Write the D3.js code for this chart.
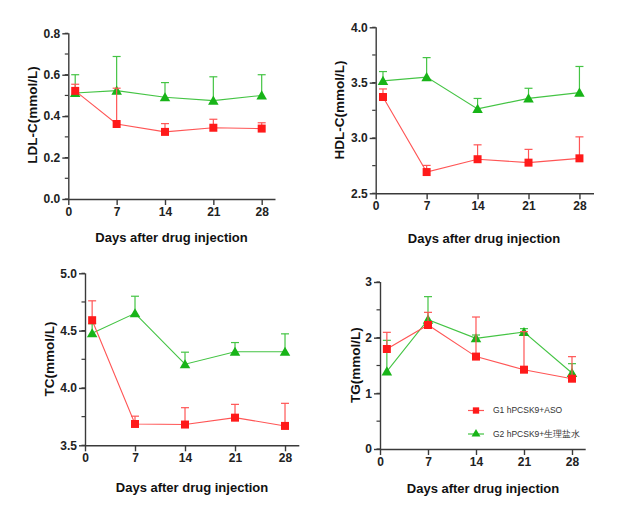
<!DOCTYPE html>
<html>
<head>
<meta charset="utf-8">
<script src="https://cdn.jsdelivr.net/npm/d3@7"></script>
<style>
  body { margin: 0; background: #fff; }
  svg { display: block; font-family: "Liberation Sans", Arial, sans-serif; }
</style>
</head>
<body>
<script>
// days measured
var days = [1, 7, 14, 21, 28];
var xTicks = [0, 7, 14, 21, 28];

// LDL-C
var ldlG1 = [0.522, 0.362, 0.324, 0.344, 0.340];
var ldlG1Err = [0.554, 0.535, 0.364, 0.385, 0.368];
var ldlG2 = [0.512, 0.523, 0.491, 0.475, 0.500];
var ldlG2Err = [0.600, 0.688, 0.562, 0.590, 0.600];

// HDL-C
var hdlG1 = [3.370, 2.692, 2.808, 2.777, 2.816];
var hdlG1Err = [3.443, 2.752, 2.938, 2.897, 3.010];
var hdlG2 = [3.516, 3.550, 3.263, 3.358, 3.410];
var hdlG2Err = [3.600, 3.726, 3.357, 3.449, 3.646];

// TC
var tcG1 = [4.591, 3.686, 3.681, 3.741, 3.669];
var tcG1Err = [4.760, 3.754, 3.828, 3.857, 3.866];
var tcG2 = [4.477, 4.651, 4.207, 4.316, 4.316];
var tcG2Err = [4.560, 4.800, 4.312, 4.396, 4.472];

// TG
var tgG1 = [1.796, 2.228, 1.660, 1.425, 1.263];
var tgG1Err = [2.096, 2.455, 2.371, 2.108, 1.659];
var tgG2 = [1.395, 2.323, 1.988, 2.102, 1.365];
var tgG2Err = [1.952, 2.737, 2.048, 2.162, 1.533];

var legendLabels = ["G1 hPCSK9+ASO", "G2 hPCSK9+生理盐水"];

var red = "#ff1a1a", redLine = "#ff5555";
var green = "#18b418", greenLine = "#44c444";
var axisColor = "#3a3a3a";

var svg = d3.select("body").append("svg").attr("width", 632).attr("height", 511);

var panels = [
  { title: "LDL-C(mmol/L)", g1: ldlG1, e1: ldlG1Err, g2: ldlG2, e2: ldlG2Err,
    yDom: [0, 0.8], yMajor: [0, 0.2, 0.4, 0.6, 0.8], yMinor: 0.1, fmt: d3.format(".1f"),
    x0: 68.3, x1: 275.5, y0: 199, y1: 33.3, ytx: 32, yty: 115, xtx: 171.5, xty: 242 },
  { title: "HDL-C(mmol/L)", g1: hdlG1, e1: hdlG1Err, g2: hdlG2, e2: hdlG2Err,
    yDom: [2.5, 4.0], yMajor: [2.5, 3.0, 3.5, 4.0], yMinor: 0.25, fmt: d3.format(".1f"),
    x0: 375.7, x1: 594, y0: 193.3, y1: 27.3, ytx: 339, yty: 110, xtx: 484, xty: 243 },
  { title: "TC(mmol/L)", g1: tcG1, e1: tcG1Err, g2: tcG2, e2: tcG2Err,
    yDom: [3.5, 5.0], yMajor: [3.5, 4.0, 4.5, 5.0], yMinor: 0.25, fmt: d3.format(".1f"),
    x0: 85, x1: 299.3, y0: 445.3, y1: 273.3, ytx: 49, yty: 359, xtx: 192, xty: 491.5 },
  { title: "TG(mmol/L)", g1: tgG1, e1: tgG1Err, g2: tgG2, e2: tgG2Err,
    yDom: [0, 3], yMajor: [0, 1, 2, 3], yMinor: 0.5, fmt: d3.format("d"),
    x0: 380, x1: 585.7, y0: 449, y1: 282, ytx: 355, yty: 365, xtx: 483, xty: 492.5 }
];

panels.forEach(function(p, pi) {
  var x = d3.scaleLinear().domain([0, 30]).range([p.x0, p.x1]);
  var y = d3.scaleLinear().domain(p.yDom).range([p.y0, p.y1]);
  var g = svg.append("g");

  // minor ticks
  var minor = d3.range(p.yDom[0], p.yDom[1] + 1e-9, p.yMinor);
  g.selectAll(".minor").data(minor).enter().append("line")
    .attr("x1", p.x0 - 3.5).attr("x2", p.x0)
    .attr("y1", function(d){ return y(d); }).attr("y2", function(d){ return y(d); })
    .attr("stroke", axisColor).attr("stroke-width", 1.2);

  var yAxis = d3.axisLeft(y).tickValues(p.yMajor).tickFormat(p.fmt).tickSize(6).tickPadding(2);
  var xAxis = d3.axisBottom(x).tickValues(xTicks).tickSize(6).tickPadding(2);

  var ya = g.append("g").attr("transform", "translate(" + p.x0 + ",0)").call(yAxis);
  var xa = g.append("g").attr("transform", "translate(0," + p.y0 + ")").call(xAxis);
  [ya, xa].forEach(function(a) {
    a.select(".domain").attr("stroke", axisColor).attr("stroke-width", 1.4);
    a.selectAll(".tick line").attr("stroke", axisColor).attr("stroke-width", 1.4);
    a.selectAll(".tick text").attr("fill", "#222").style("font-size", "12px").style("font-weight", "bold");
  });
  // domain paths without outer ticks
  ya.select(".domain").attr("d", "M0.5," + p.y0 + "V" + p.y1);
  xa.select(".domain").attr("d", "M" + p.x0 + ",0.5H" + p.x1);

  g.append("text").attr("transform", "translate(" + p.ytx + "," + p.yty + ") rotate(-90)")
    .attr("text-anchor", "middle").attr("dy", "0.35em")
    .style("font-size", "13.5px").style("font-weight", "bold").attr("fill", "#111")
    .text(p.title);
  g.append("text").attr("x", p.xtx).attr("y", p.xty).attr("text-anchor", "middle")
    .style("font-size", "13px").style("font-weight", "bold").attr("fill", "#111")
    .text("Days after drug injection");

  var line = d3.line().x(function(d){ return x(d[0]); }).y(function(d){ return y(d[1]); });

  function drawSeries(vals, errs, col, lineCol, shape) {
    var pts = days.map(function(d, i){ return [d, vals[i], errs[i]]; });
    // error bars (upper only)
    g.selectAll(null).data(pts).enter().append("line")
      .attr("x1", function(d){ return x(d[0]); }).attr("x2", function(d){ return x(d[0]); })
      .attr("y1", function(d){ return y(d[1]); }).attr("y2", function(d){ return y(d[2]); })
      .attr("stroke", lineCol).attr("stroke-width", 1.2);
    g.selectAll(null).data(pts).enter().append("line")
      .attr("x1", function(d){ return x(d[0]) - 4; }).attr("x2", function(d){ return x(d[0]) + 4; })
      .attr("y1", function(d){ return y(d[2]); }).attr("y2", function(d){ return y(d[2]); })
      .attr("stroke", lineCol).attr("stroke-width", 1.2);
    g.append("path").datum(pts).attr("d", line).attr("fill", "none")
      .attr("stroke", lineCol).attr("stroke-width", 1.1);
    var sym = d3.symbol().type(shape === "sq" ? d3.symbolSquare : d3.symbolTriangle).size(shape === "sq" ? 64 : 48);
    g.selectAll(null).data(pts).enter().append("path")
      .attr("transform", function(d){ return "translate(" + x(d[0]) + "," + (y(d[1]) + (shape === "sq" ? 0 : 1)) + ")"; })
      .attr("d", sym).attr("fill", col);
  }
  drawSeries(p.g2, p.e2, green, greenLine, "tri");
  drawSeries(p.g1, p.e1, red, redLine, "sq");
});

// legend
var leg = svg.append("g");
var legItems = [
  { label: legendLabels[0], col: red, lineCol: redLine, shape: d3.symbolSquare, size: 40, y: 410.5 },
  { label: legendLabels[1], col: green, lineCol: greenLine, shape: d3.symbolTriangle, size: 34, y: 434 }
];
legItems.forEach(function(it) {
  leg.append("line").attr("x1", 468).attr("x2", 484).attr("y1", it.y).attr("y2", it.y)
    .attr("stroke", it.lineCol).attr("stroke-width", 1.2);
  leg.append("path").attr("transform", "translate(476," + it.y + ")")
    .attr("d", d3.symbol().type(it.shape).size(it.size)).attr("fill", it.col);
  leg.append("text").attr("x", 493).attr("y", it.y).attr("dy", "0.35em")
    .style("font-size", "8.5px").attr("fill", "#333").text(it.label);
});
</script>
</body>
</html>
